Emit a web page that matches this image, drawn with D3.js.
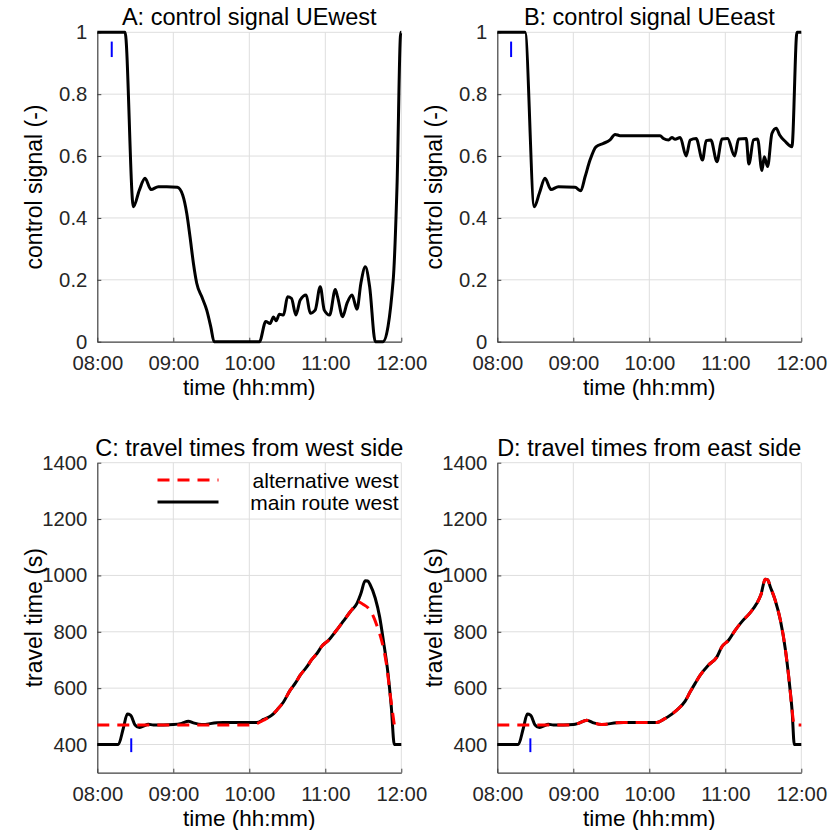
<!DOCTYPE html>
<html>
<head>
<meta charset="utf-8">
<script src="https://cdn.jsdelivr.net/npm/d3@7"></script>
<style>
  html, body { margin: 0; padding: 0; background: #fff; }
  svg { display: block; }
  text { font-family: "Liberation Sans", Arial, Helvetica, sans-serif; }
</style>
</head>
<body>
<svg id="chart" width="830" height="830"></svg>
<script>
// ---------------- DATA ----------------
// time in minutes after 08:00
const timeTicks = [0, 60, 120, 180, 240];
const timeTickLabels = ["08:00", "09:00", "10:00", "11:00", "12:00"];
const signalTicks = [0, 0.2, 0.4, 0.6, 0.8, 1];
const signalTickLabels = ["0", "0.2", "0.4", "0.6", "0.8", "1"];
const travelTicks = [400, 600, 800, 1000, 1200, 1400];
const travelTickLabels = ["400", "600", "800", "1000", "1200", "1400"];

const titles = ["A: control signal UEwest", "B: control signal UEeast",
                "C: travel times from west side", "D: travel times from east side"];
const legendLabels = ["alternative west", "main route west"];

// Panel A: control signal UEwest
const timeA = [0, 21.9, 28.5, 33.2, 37.7, 42.4, 48.2, 54.8, 63.2, 67.4, 70.6, 73.2, 75.9, 78.5, 82.5, 86.4, 89.6, 92.2,
  128, 133, 136.4, 139.1, 141.2, 143.8, 147, 150.2, 153.3, 156.8, 160.2, 164.9, 168.1, 172, 176, 179.2, 183.4,
  187.9, 189.7, 193.7, 197.1, 201.1, 205, 208.1, 211.6, 215, 219.5, 225.5, 233.6, 236.6, 239.6, 240];
const signalA = [1, 1, 0.436, 0.49, 0.528, 0.492, 0.501, 0.501, 0.499, 0.474, 0.415, 0.339, 0.253, 0.189, 0.145, 0.102, 0.048, 0,
  0, 0.065, 0.059, 0.08, 0.068, 0.089, 0.086, 0.145, 0.14, 0.086, 0.135, 0.151, 0.092, 0.102, 0.178, 0.102, 0.086,
  0.169, 0.145, 0.081, 0.124, 0.151, 0.105, 0.189, 0.242, 0.178, 0, 0, 0.199, 0.501, 1, 1];

// Panel B: control signal UEeast
const timeB = [0, 21.9, 29.2, 33.2, 37.7, 42.4, 48.2, 61.4, 65.9, 69.3, 73.2, 77.9, 83.8, 89, 93, 96.9,
  128.5, 131.2, 135.2, 137.8, 140.4, 144.4, 149.1, 152.3, 157, 162, 164.9, 168.6, 173.4, 177.3, 181.8,
  187.3, 190.5, 196.5, 198.6, 202.3, 205.5, 208.9, 210.8, 213.4, 216.8, 220.2, 222.9, 227.4, 232.6, 236.6, 240];
const signalB = [1, 1, 0.436, 0.48, 0.528, 0.492, 0.501, 0.499, 0.488, 0.533, 0.587, 0.63, 0.641, 0.652, 0.67, 0.666,
  0.666, 0.657, 0.652, 0.66, 0.654, 0.66, 0.6, 0.652, 0.657, 0.587, 0.65, 0.652, 0.582, 0.655, 0.657,
  0.6, 0.655, 0.657, 0.574, 0.652, 0.655, 0.553, 0.598, 0.566, 0.673, 0.69, 0.668, 0.647, 0.63, 1, 1];

// Panel C: travel times from west side
const timeCmain = [0, 16.6, 20.5, 23.7, 26.3, 29.8, 33.2, 36.4, 40.3, 44.3, 60.1, 66.6, 71.9, 75.9, 82.5, 94.3, 99.6,
  125.9, 131.2, 137.8, 141.7, 147, 152.3, 156.2, 160.2, 165.5, 169.4, 173.4, 177.3, 182.6, 187.9, 194.4, 199.7,
  205, 208.1, 211.5, 213.5, 215.5, 219.4, 222.9, 226.0, 229.5, 232.1, 234.5, 240];
const travelCmain = [400, 400, 457, 508, 504, 469, 460, 465, 472, 469, 471, 475, 483, 477, 471, 477, 478,
  478, 489, 504, 522, 551, 593, 617, 646, 676, 702, 723, 749, 770, 800, 839, 871,
  901, 936, 981, 980, 966, 920, 853, 764, 652, 534, 400, 400];
const timeCalt = [0, 60, 120, 126, 131.2, 137.8, 141.7, 147, 152.3, 156.2, 160.2, 165.5, 169.4, 173.4, 177.3, 182.6,
  187.9, 194.4, 199.7, 205, 206.3, 210, 214.2, 218.1, 221.3, 224.7, 228.1, 231.3, 234.5];
const travelCalt = [469, 469, 469, 474, 486, 504, 522, 551, 593, 617, 646, 676, 702, 723, 749, 770,
  800, 839, 871, 901, 906, 897, 883, 853, 815, 765, 690, 575, 469];

// Panel D: travel times from east side
const timeDmain = [0, 16.6, 20.5, 23.7, 26.3, 29.8, 33.2, 36.4, 40.3, 44.3, 60.1, 64, 70.6, 75.9, 82.5, 94.3, 99.6,
  125.9, 131.2, 137.8, 141.7, 148.3, 152.3, 156.2, 160.2, 166.8, 173.4, 177.3, 182.6, 187.9, 193.1, 199.7,
  204.9, 208.1, 211.5, 213.5, 215.5, 219.4, 223.5, 227.5, 230.9, 232.7, 234.5, 240];
const travelDmain = [400, 400, 457, 508, 504, 469, 460, 465, 472, 469, 471, 475, 486, 477, 471, 477, 478,
  478, 489, 508, 522, 554, 587, 617, 646, 682, 711, 747, 770, 806, 836, 868,
  901, 931, 986, 984, 960, 912, 841, 735, 605, 522, 400, 400];
const timeDalt = [0, 60.1, 64, 70.6, 75.9, 82.5, 94.3, 99.6, 125.9, 131.2, 137.8, 141.7, 148.3, 152.3, 156.2,
  160.2, 166.8, 173.4, 177.3, 182.6, 187.9, 193.1, 199.7, 204.9, 208.1, 211.5, 213.5, 215.5, 219.4, 223.5,
  227.5, 230.9, 232.7, 234.5, 240];
const travelDalt = [469, 469, 475, 486, 477, 471, 477, 478, 478, 489, 508, 522, 554, 587, 617,
  646, 682, 711, 747, 770, 806, 836, 868, 901, 931, 986, 984, 960, 912, 841,
  735, 605, 522, 469, 469];

// blue markers [time, low, high]
const markerSignalA = [11.4, 0.92, 0.97];
const markerSignalB = [10.9, 0.92, 0.97];
const markerTravelC = [26.8, 373, 422];
const markerTravelD = [26.1, 373, 422];

// ---------------- LAYOUT ----------------
const svg = d3.select("#chart");
const panelBoxes = [
  {x: 97.3, y: 32.3, w: 304, h: 309.4},
  {x: 497.3, y: 32.3, w: 304, h: 309.4},
  {x: 97.3, y: 462.7, w: 304, h: 310},
  {x: 497.3, y: 462.7, w: 304, h: 310}
];
const axisColor = "#404040";
const gridColor = "#dedede";

function drawPanel(i, yDomain, yTicks, yTickLabels, yLabel, series, marker) {
  const b = panelBoxes[i];
  const x = d3.scaleLinear().domain([0, 240]).range([b.x, b.x + b.w]);
  const y = d3.scaleLinear().domain(yDomain).range([b.y + b.h, b.y]);
  const g = svg.append("g");

  // grid
  g.selectAll(".gx").data(timeTicks.filter(t => t > 0)).enter().append("line")
    .attr("x1", d => x(d)).attr("x2", d => x(d))
    .attr("y1", b.y).attr("y2", b.y + b.h)
    .attr("stroke", gridColor).attr("stroke-width", 1);
  g.selectAll(".gy").data(yTicks.filter(t => t > yDomain[0])).enter().append("line")
    .attr("x1", b.x).attr("x2", b.x + b.w)
    .attr("y1", d => y(d)).attr("y2", d => y(d))
    .attr("stroke", gridColor).attr("stroke-width", 1);

  // axes
  const xAxis = d3.axisBottom(x).tickValues(timeTicks)
    .tickFormat((d, k) => timeTickLabels[k]).tickSizeInner(-4).tickSizeOuter(0).tickPadding(0);
  const yAxis = d3.axisLeft(y).tickValues(yTicks)
    .tickFormat((d, k) => yTickLabels[k]).tickSizeInner(-4).tickSizeOuter(0).tickPadding(10);
  const gx = g.append("g").attr("transform", `translate(0,${b.y + b.h})`).call(xAxis);
  const gy = g.append("g").attr("transform", `translate(${b.x},0)`).call(yAxis);
  [gx, gy].forEach(a => {
    a.select(".domain").attr("stroke", axisColor).attr("stroke-width", 1.2);
    a.selectAll(".tick line").attr("stroke", axisColor);
    a.selectAll(".tick text").attr("fill", "#262626").style("font-size", "20.3px");
  });
  gx.selectAll(".tick text").attr("y", 28.6).attr("dy", null);

  // series
  const line = d3.line().x(d => x(d[0])).y(d => y(d[1])).curve(d3.curveMonotoneX);
  series.forEach(s => {
    const pts = s.t.map((t, k) => [t, s.v[k]]);
    g.append("path").datum(pts).attr("d", line)
      .attr("fill", "none").attr("stroke", s.color).attr("stroke-width", s.width)
      .attr("stroke-linejoin", "round")
      .attr("stroke-dasharray", s.dash || null);
  });

  // marker
  g.append("line")
    .attr("x1", x(marker[0])).attr("x2", x(marker[0]))
    .attr("y1", y(marker[1])).attr("y2", y(marker[2]))
    .attr("stroke", "#0000ff").attr("stroke-width", 2);

  // title
  g.append("text").attr("x", b.x + b.w / 2).attr("y", b.y - 7)
    .attr("text-anchor", "middle").attr("fill", "#000").style("font-size", "23.5px")
    .text(titles[i]);
  // x label
  g.append("text").attr("x", b.x + b.w / 2).attr("y", b.y + b.h + 53.5)
    .attr("text-anchor", "middle").attr("fill", "#000").style("font-size", "22.5px")
    .text("time (hh:mm)");
  // y label
  g.append("text")
    .attr("transform", `translate(${b.x - 55},${b.y + b.h / 2}) rotate(-90)`)
    .attr("text-anchor", "middle").attr("fill", "#000").style("font-size", "23px")
    .text(yLabel);

  return {x, y, g};
}

drawPanel(0, [0, 1], signalTicks, signalTickLabels, "control signal (-)",
  [{t: timeA, v: signalA, color: "#000", width: 3}], markerSignalA);
drawPanel(1, [0, 1], signalTicks, signalTickLabels, "control signal (-)",
  [{t: timeB, v: signalB, color: "#000", width: 3}], markerSignalB);
const pC = drawPanel(2, [300, 1400], travelTicks, travelTickLabels, "travel time (s)",
  [{t: timeCmain, v: travelCmain, color: "#000", width: 3},
   {t: timeCalt, v: travelCalt, color: "#ff0000", width: 3, dash: "12,8"}], markerTravelC);
drawPanel(3, [300, 1400], travelTicks, travelTickLabels, "travel time (s)",
  [{t: timeDmain, v: travelDmain, color: "#000", width: 3},
   {t: timeDalt, v: travelDalt, color: "#ff0000", width: 3, dash: "12,8"}], markerTravelD);

// legend in panel C
const lg = pC.g.append("g");
const legendStyles = [{color: "#ff0000", dash: "12,8"}, {color: "#000", dash: null}];
legendLabels.forEach((lab, k) => {
  const yy = 480 + k * 22;
  lg.append("line").attr("x1", 157.5).attr("x2", 218.5).attr("y1", yy).attr("y2", yy)
    .attr("stroke", legendStyles[k].color).attr("stroke-width", 3)
    .attr("stroke-dasharray", legendStyles[k].dash);
  lg.append("text").attr("x", 398.5).attr("y", yy + 7.5).attr("text-anchor", "end")
    .attr("fill", "#000").style("font-size", "21px").text(lab);
});
</script>
</body>
</html>
